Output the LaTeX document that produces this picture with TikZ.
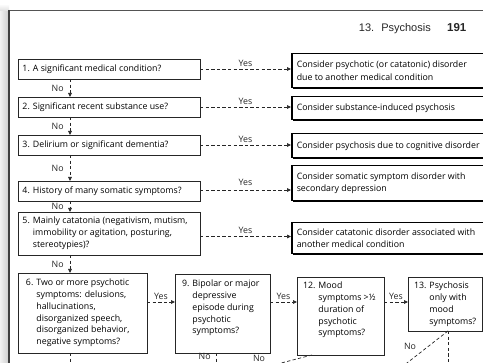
\documentclass[tikz,border=0pt]{standalone}
\usepackage{fontspec}
\setmainfont{Open Sans}
\newfontfamily\hdrfont{Liberation Sans}
\usetikzlibrary{arrows.meta,shadows}
\newcommand\hq[2]{\setbox0=\hbox{#1\space}\hangindent=\wd0 \hangafter=1 \noindent#1\space#2}
\tikzset{
  x=1pt, y=-1pt,
  txt/.style={font=\fontsize{8.8}{11.8}\selectfont},
  qbox/.style={txt, draw=black!85, line width=0.8pt, rectangle, inner ysep=0pt, anchor=north west, outer sep=0pt},
  rbox/.style={txt, draw=black, line width=1.5pt, rectangle, inner ysep=0pt, inner xsep=5pt, anchor=north west, fill=white,
    drop shadow={shadow xshift=0.9pt, shadow yshift=-1.2pt, fill=black, opacity=1}},
  dl/.style={draw=black!85, line width=0.7pt, dash pattern=on 3.3pt off 2.3pt},
  arr/.style={dl, -{Triangle[length=4pt,width=3.6pt]}},
  lab/.style={txt, inner sep=1pt, text=black!85},
  hdr/.style={font=\hdrfont\fontsize{11}{13}\selectfont, inner sep=0pt, text=black!85},
}
\begin{document}
\begin{tikzpicture}
\useasboundingbox (0,0) rectangle (483,363);
\clip (0,0) rectangle (483,363);
% page edge
\shade[left color=gray!10, right color=gray!40] (0,11) rectangle (9,363);
\shade[top color=white, bottom color=gray!25] (0,4) rectangle (9,11);
\draw[gray!65!black, line width=0.9pt] (9,10) -- (490,10);
\draw[black!75, line width=1.1pt] (9,10) -- (9,370);
% header
\node[hdr, anchor=base east] (h1) at (431,32) {13.\hspace{3pt} Psychosis};
\node[hdr, font=\hdrfont\bfseries\fontsize{11.5}{13}\selectfont, anchor=base west] (h2) at (447,32) {191};
% question boxes
\node[qbox, inner xsep=4.5pt] (q1) at (18,59) {\parbox[c][20pt][c]{173pt}{1. A significant medical condition?}};
\node[qbox, inner xsep=4.5pt] (q2) at (18,97) {\parbox[c][20pt][c]{173pt}{2. Significant recent substance use?}};
\node[qbox, inner xsep=4.5pt] (q3) at (18,135) {\parbox[c][20pt][c]{173pt}{3. Delirium or significant dementia?}};
\node[qbox, inner xsep=4.5pt] (q4) at (18,181) {\parbox[c][20pt][c]{173pt}{4. History of many somatic symptoms?}};
\node[qbox, inner xsep=4.5pt] (q5) at (18,212) {\parbox[c][43pt][c]{173pt}{\hq{5.}{Mainly catatonia (negativism, mutism,\\immobility or agitation, posturing,\\stereotypies)?}}};
\node[qbox, inner xsep=8pt, inner ysep=6pt] (q6) at (18,273) {\parbox[c][68pt][t]{113pt}{\hq{6.}{Two or more psychotic\\symptoms: delusions,\\hallucinations,\\disorganized speech,\\disorganized behavior,\\negative symptoms?}}};
\node[qbox, inner xsep=7pt, inner ysep=6pt] (q9) at (175,274) {\parbox[c][67pt][t]{81pt}{\hq{9.}{Bipolar or major\\depressive\\episode during\\psychotic\\symptoms?}}};
\node[qbox, inner xsep=6pt, inner ysep=5pt] (q12) at (297,277) {\parbox[c][68pt][t]{75pt}{\hq{12.}{Mood\\symptoms >½\\duration of\\psychotic\\symptoms?}}};
\node[qbox, inner xsep=6pt, inner ysep=5pt] (q13) at (408,277) {\parbox[c][44pt][t]{62pt}{\hq{13.}{Psychosis\\only with\\mood\\symptoms?}}};
% result boxes
\node[rbox] (r1) at (291,53) {\parbox[c][34pt][c]{190pt}{\fontsize{8.8}{12.8}\selectfont Consider psychotic (or catatonic) disorder\\due to another medical condition}};
\node[rbox] (r2) at (291,96) {\parbox[c][23pt][c]{190pt}{Consider substance-induced psychosis}};
\node[rbox] (r3) at (291,133) {\parbox[c][24pt][c]{190pt}{Consider psychosis due to cognitive disorder}};
\node[rbox] (r4) at (291,165) {\parbox[c][35pt][c]{190pt}{\fontsize{8.8}{12.8}\selectfont Consider somatic symptom disorder with\\secondary depression}};
\node[rbox] (r5) at (291,222) {\parbox[c][31pt][c]{190pt}{\fontsize{8.8}{12.8}\selectfont Consider catatonic disorder associated with\\another medical condition}};
% yes arrows
\draw[arr] (q1.east) -- (q1.east -| r1.west) node[lab, midway, above=1.5pt] {Yes};
\draw[arr] (q2.east) -- (q2.east -| r2.west) node[lab, midway, above=1.5pt] {Yes};
\draw[arr] (q3.east) -- (q3.east -| r3.west) node[lab, midway, above=1.5pt] {Yes};
\draw[arr] ([yshift=1pt]q4.east) -- ([yshift=1pt]q4.east -| r4.west) node[lab, midway, above=3pt] {Yes};
\draw[arr] ([yshift=-3pt]q5.east) -- ([yshift=-3pt]q5.east -| r5.west) node[lab, midway, above=1.5pt] {Yes};
\draw[arr] ([yshift=11pt]q6.east) -- ([yshift=11pt]q6.east -| q9.west) node[lab, midway, above=1.5pt] {Yes};
\draw[arr] ([yshift=11pt]q6.east -| q9.east) -- ([yshift=11pt]q6.east -| q12.west) node[lab, midway, above=1.5pt] {Yes};
\draw[arr] ([yshift=11pt]q6.east -| q12.east) -- ([yshift=11pt]q6.east -| q13.west) node[lab, midway, above=1.5pt] {Yes};
% no arrows
\draw[arr] ([xshift=52pt]q1.south west) -- ([xshift=52pt]q2.north west) node[lab, midway, left=5pt] {No};
\draw[arr] ([xshift=52pt]q2.south west) -- ([xshift=52pt]q3.north west) node[lab, midway, left=5pt] {No};
\draw[arr] ([xshift=52pt]q3.south west) -- ([xshift=52pt]q4.north west) node[lab, midway, left=5pt] {No};
\draw[arr] ([xshift=52pt]q4.south west) -- ([xshift=52pt]q5.north west) node[lab, midway, left=5pt] {No};
\draw[arr] ([xshift=52pt]q5.south west) -- ([xshift=52pt]q6.north west) node[lab, midway, left=5pt] {No};
% bottom connectors
\coordinate (e6) at (70,372);
\draw[dl] ([xshift=52pt]q6.south west) -- (e6);
\coordinate (e9) at (216,372);
\draw[dl] ([xshift=41pt]q9.south west) -- (e9) node[lab, pos=0.2, left=4pt] {No};
\coordinate (e12) at (262,368);
\draw[dl] ([xshift=15pt]q12.south west) -- (e12);
\node[lab] (n12) at (259,358.5) {No};
\coordinate (e13a) at (448,372);
\coordinate (e13b) at (398,370);
\draw[dl] ([xshift=40pt]q13.south west) -- (e13a);
\draw[dl] ([xshift=40pt]q13.south west) -- (e13b);
\node[lab] (n13) at (410,346) {No};
\end{tikzpicture}
\end{document}
